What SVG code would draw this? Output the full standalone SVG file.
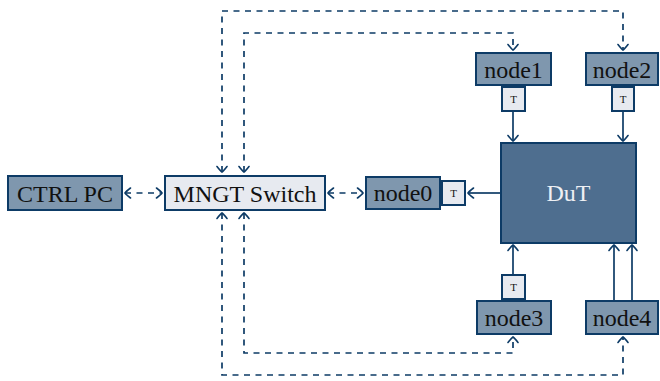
<svg xmlns="http://www.w3.org/2000/svg" width="660" height="381" viewBox="0 0 660 381">
<defs>
<marker id="ah" viewBox="-7 -6 9 12" markerWidth="9" markerHeight="12" refX="0" refY="0" orient="auto-start-reverse" markerUnits="userSpaceOnUse">
<path d="M-5.5,-5 Q-1,-1.5 0,0 Q-1,1.5 -5.5,5" fill="none" stroke="#0d3b66" stroke-width="1.6" stroke-linecap="round"/>
</marker>
<style>
.box{stroke:#0d3b66;stroke-width:2}
.node{fill:#7f97ae}
.light{fill:#e7eaf0}
.dut{fill:#4e6e8f}
.lbl{font-family:"Liberation Serif",serif;font-size:24px;fill:#111;text-anchor:middle}
.t{font-family:"Liberation Serif",serif;font-size:11px;fill:#111;text-anchor:middle}
.ln{fill:none;stroke:#0d3b66;stroke-width:1.7}
.d{stroke-dasharray:6 5.5}
</style>
</defs>
<g id="connectors">
<path class="ln d" d="M125,193 H162" marker-start="url(#ah)" marker-end="url(#ah)"/>
<path class="ln d" d="M328,193 H363" marker-start="url(#ah)" marker-end="url(#ah)"/>
<path class="ln d" d="M222,172 V11 H623 V50" marker-start="url(#ah)" marker-end="url(#ah)"/>
<path class="ln d" d="M244,172 V33 H513 V50" marker-start="url(#ah)" marker-end="url(#ah)"/>
<path class="ln d" d="M222,213 V375 H623 V337" marker-start="url(#ah)" marker-end="url(#ah)"/>
<path class="ln d" d="M244,213 V353 H513 V337" marker-start="url(#ah)" marker-end="url(#ah)"/>
<path class="ln" d="M500,193 H468" marker-end="url(#ah)"/>
<path class="ln" d="M513,111 V141" marker-end="url(#ah)"/>
<path class="ln" d="M623,111 V141" marker-end="url(#ah)"/>
<path class="ln" d="M513,275 V245" marker-end="url(#ah)"/>
<path class="ln" d="M614,301 V245" marker-end="url(#ah)"/>
<path class="ln" d="M632,301 V245" marker-end="url(#ah)"/>
</g>
<g id="ctrlpc"><rect class="box node" x="8" y="176" width="114" height="34"/><text class="lbl" x="65" y="201.5">CTRL PC</text></g>
<g id="mngt"><rect class="box light" x="165" y="176" width="160" height="34"/><text class="lbl" x="245" y="201.5">MNGT Switch</text></g>
<g id="node0"><rect class="box node" x="366" y="177" width="74" height="32"/><text class="lbl" x="403" y="201">node0</text><rect class="box light" x="442" y="181" width="23" height="24"/><text class="t" x="453.5" y="197">T</text></g>
<g id="dut"><rect class="box dut" x="501" y="143" width="135" height="100"/><text class="lbl" x="568.5" y="201" style="fill:#eef0f4">DuT</text></g>
<g id="node1"><rect class="box node" x="476" y="53" width="75" height="32"/><text class="lbl" x="513.5" y="77.5">node1</text><rect class="box light" x="502" y="87" width="23" height="24"/><text class="t" x="513.5" y="103">T</text></g>
<g id="node2"><rect class="box node" x="586" y="53" width="72" height="32"/><text class="lbl" x="622" y="77.5">node2</text><rect class="box light" x="612" y="87" width="22" height="24"/><text class="t" x="623" y="103">T</text></g>
<g id="node3"><rect class="box node" x="477" y="301" width="74" height="33"/><text class="lbl" x="514" y="325.5">node3</text><rect class="box light" x="502" y="275" width="23" height="24"/><text class="t" x="513.5" y="291">T</text></g>
<g id="node4"><rect class="box node" x="586" y="301" width="72" height="33"/><text class="lbl" x="622" y="325.5">node4</text></g>
</svg>
